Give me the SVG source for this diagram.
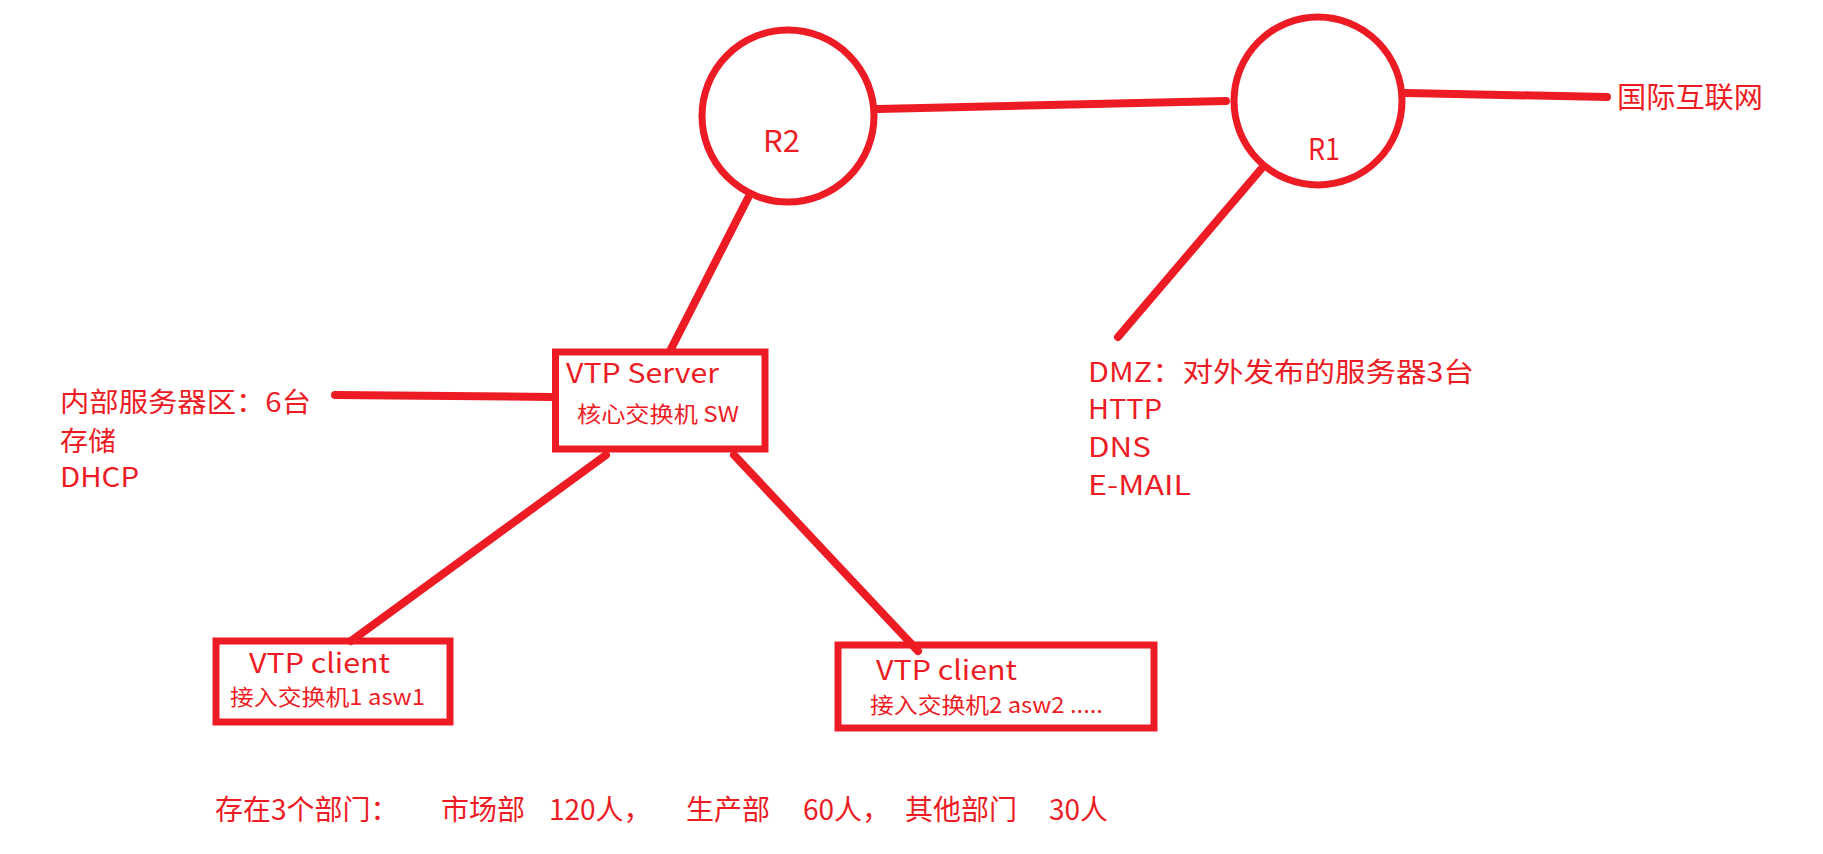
<svg xmlns="http://www.w3.org/2000/svg" width="1823" height="854" viewBox="0 0 1823 854">
<style>
.shape{fill:none;stroke:#ED1C24;stroke-width:7}
.link{stroke:#ED1C24;stroke-width:8;stroke-linecap:round;fill:none}
text{fill:#ED1C24;font-family:"Noto Sans CJK SC","Noto Sans",sans-serif}
.big{font-size:27px}
.small{font-size:22px}
.dept{font-size:28px}
</style>
<rect width="1823" height="854" fill="#ffffff"/>
<g id="connectors">
<line class="link" x1="878" y1="109" x2="1226" y2="101"/>
<line class="link" x1="1406" y1="93" x2="1607" y2="97"/>
<line class="link" x1="748" y1="198" x2="671" y2="349"/>
<line class="link" x1="1262" y1="168" x2="1118" y2="337"/>
<line class="link" x1="335" y1="395" x2="552" y2="397"/>
<line class="link" x1="606" y1="455" x2="351" y2="641"/>
<line class="link" x1="734" y1="455" x2="918" y2="651"/>
</g>
<g id="R2">
<circle class="shape" cx="788" cy="116" r="86"/>
<text x="763" y="152" font-size="30" textLength="37" lengthAdjust="spacingAndGlyphs">R2</text>
</g>
<g id="R1">
<circle class="shape" cx="1318" cy="101" r="84"/>
<text x="1308" y="160" font-size="30" textLength="32" lengthAdjust="spacingAndGlyphs">R1</text>
</g>
<g id="internet">
<text x="1617" y="108" font-size="29" textLength="146" lengthAdjust="spacingAndGlyphs">国际互联网</text>
</g>
<g id="SW">
<rect class="shape" x="555.5" y="352" width="209.5" height="97"/>
<text class="big" x="566" y="383" textLength="153" lengthAdjust="spacingAndGlyphs">VTP Server</text>
<text class="small" x="577" y="422" textLength="162" lengthAdjust="spacingAndGlyphs">核心交换机 SW</text>
</g>
<g id="internal">
<text class="big" x="60" y="412" textLength="251" lengthAdjust="spacingAndGlyphs">内部服务器区：6台</text>
<text class="big" x="60" y="451" textLength="56" lengthAdjust="spacingAndGlyphs">存储</text>
<text class="big" x="60" y="487" textLength="79" lengthAdjust="spacingAndGlyphs">DHCP</text>
</g>
<g id="DMZ">
<text class="big" x="1088" y="382" textLength="386" lengthAdjust="spacingAndGlyphs">DMZ：对外发布的服务器3台</text>
<text class="big" x="1088" y="419" textLength="74" lengthAdjust="spacingAndGlyphs">HTTP</text>
<text class="big" x="1088" y="457" textLength="63" lengthAdjust="spacingAndGlyphs">DNS</text>
<text class="big" x="1088" y="495" textLength="103" lengthAdjust="spacingAndGlyphs">E-MAIL</text>
</g>
<g id="asw1">
<rect class="shape" x="216" y="641" width="234" height="81"/>
<text class="big" x="249" y="673" textLength="141" lengthAdjust="spacingAndGlyphs">VTP client</text>
<text class="small" x="230" y="705" textLength="195" lengthAdjust="spacingAndGlyphs">接入交换机1 asw1</text>
</g>
<g id="asw2">
<rect class="shape" x="838" y="645" width="316" height="83"/>
<text class="big" x="876" y="680" textLength="141" lengthAdjust="spacingAndGlyphs">VTP client</text>
<text class="small" x="870" y="713" textLength="233" lengthAdjust="spacingAndGlyphs">接入交换机2 asw2 .....</text>
</g>
<g id="departments">
<text class="dept" y="820"><tspan x="215">存在3个部门：</tspan><tspan x="441">市场部</tspan><tspan x="549">120人，</tspan><tspan x="686">生产部</tspan><tspan x="803">60人，</tspan><tspan x="905">其他部门</tspan><tspan x="1049">30人</tspan></text>
</g>
</svg>
